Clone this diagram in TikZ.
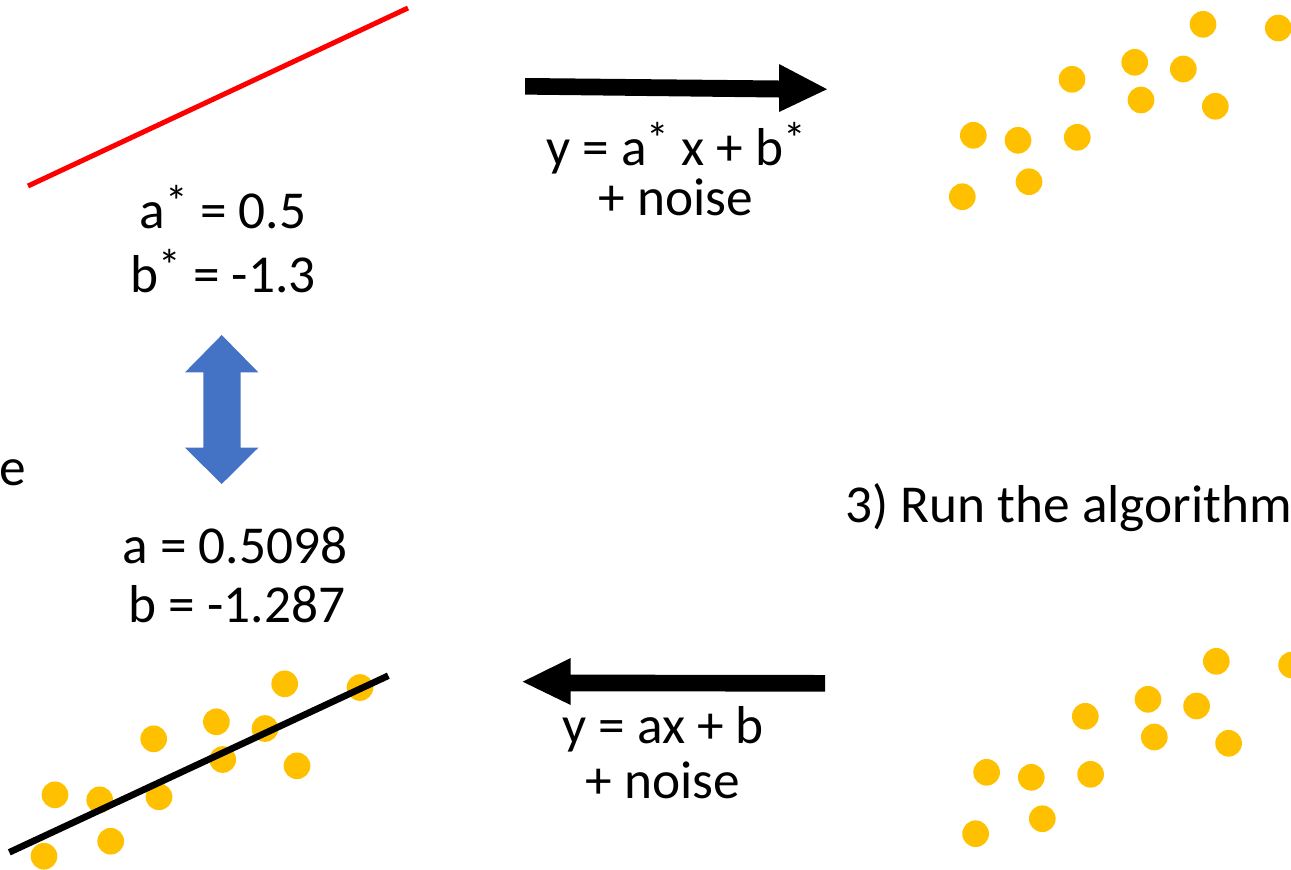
\documentclass[tikz,border=0pt]{standalone}
\usepackage{fontspec}
\setmainfont{Carlito}
\newcommand\supstar{{\fontsize{34pt}{34pt}\selectfont\raisebox{8pt}{*}}}
\definecolor{dotyellow}{HTML}{FFC000}
\definecolor{arrowblue}{HTML}{4472C4}
\tikzset{
  txt/.style={inner sep=0pt, anchor=base, font=\fontsize{40pt}{48pt}\selectfont},
  dot/.style={circle, fill=dotyellow, inner sep=0pt, minimum size=20pt},
  blockarrow/.style={fill=black},
}
\begin{document}
\begin{tikzpicture}[x=0.75pt, y=-0.75pt]
\useasboundingbox (0,0) rectangle (1291,869);
% red line (true model)
\coordinate (r1) at (28,186);
\coordinate (r2) at (408,8);
\draw[red, line width=3.75pt] (r1) -- (r2);
% texts
\node[txt] (astar) at (223,228) {a\supstar{} = 0.5};
\node[txt] (bstar) at (223,292) {b\supstar{} = -1.3};
\node[txt] (ahat) at (235,563) {a = 0.5098};
\node[txt] (bhat) at (237,622) {b = -1.287};
\node[txt, text depth=2pt] (gen1) at (676,165) {y = a\supstar{} x + b\supstar};
\node[txt] (gen2) at (676,215) {+ noise};
\node[txt, text depth=2pt] (fit1) at (663,743) {y = ax + b};
\node[txt] (fit2) at (663,798) {+ noise};
\node[txt, anchor=base west] (run) at (845,522) {3) Run the algorithm};
\node[txt, anchor=base east] (cut) at (26,485) {e};
% blue double arrow
\coordinate (bt) at (221.7,335);
\coordinate (bb) at (221.7,484);
\fill[arrowblue] (bt) -- ++(36.6,37.3) -- ++(-17.6,0) -- ++(0,75.4) -- ++(17.6,0)
  -- (bb) -- ++(-36.7,-36.3) -- ++(18.3,0) -- ++(0,-75.4) -- ++(-18.3,0) -- cycle;
% top black arrow
\coordinate (ta) at (525,86.3);
\coordinate (tb) at (827,89.2);
\fill[blockarrow] (ta) ++(0,-8.3) -- (779,80.5) -- (779,64) -- (tb) -- (779,112) -- (779,97.5) -- (525,94.6) -- cycle;
% bottom black arrow
\coordinate (ba) at (825,683.3);
\coordinate (bbb) at (522.7,681.7);
\fill[blockarrow] (ba) ++(0,-8.3) -- (570.7,674.6) -- (570.7,658) -- (bbb) -- (570.7,705) -- (570.7,691.3) -- (825,691.6) -- cycle;
% top-right dots
\foreach \x/\y [count=\i] in {1203/24.3,1278.3/28,1134.7/62.3,1072/79.3,1183.3/69,1141/100,1215.3/106.3,973.3/135.3,1018/140.3,1077.3/137.3,1029/181.7,962.3/196.7}
  \node[dot] (t\i) at (\x,\y) {};
% bottom-right dots
\foreach \x/\y [count=\i] in {1203/24.3,1278.3/28,1134.7/62.3,1072/79.3,1183.3/69,1141/100,1215.3/106.3,973.3/135.3,1018/140.3,1077.3/137.3,1029/181.7,962.3/196.7}
  \node[dot] (m\i) at (\x+13.3,\y+637) {};
% bottom-left dots
\foreach \x/\y [count=\i] in {1203/24.3,1278.3/28,1134.7/62.3,1072/79.3,1183.3/69,1141/100,1215.3/106.3,973.3/135.3,1018/140.3,1077.3/137.3,1029/181.7,962.3/196.7}
  \node[dot] (l\i) at (\x-918.3,\y+659.5) {};
% fitted black line
\coordinate (f1) at (9.3,852.3);
\coordinate (f2) at (388.3,675.7);
\draw[black, line width=5pt] (f1) -- (f2);
\end{tikzpicture}
\end{document}
